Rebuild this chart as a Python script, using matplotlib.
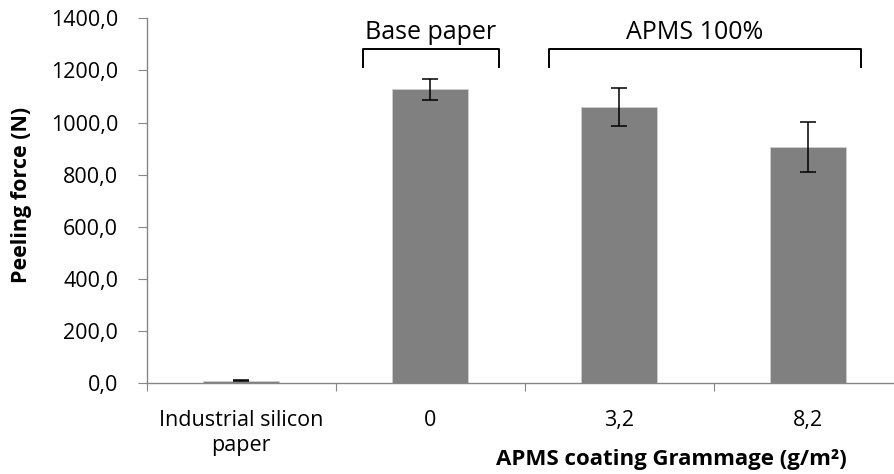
import matplotlib
matplotlib.use("Agg")
import matplotlib.pyplot as plt
import numpy as np

# ---- data ----
categories = ["Industrial silicon\npaper", "0", "3,2", "8,2"]
peeling_force = [10.0, 1127.0, 1060.0, 907.0]
peeling_err = [3.0, 39.5, 73.5, 95.0]
y_ticks = [0, 200, 400, 600, 800, 1000, 1200, 1400]
y_tick_labels = ["0,0", "200,0", "400,0", "600,0", "800,0", "1000,0", "1200,0", "1400,0"]
group_labels = ["Base paper", "APMS 100%"]
group_spans = [(0.643, 1.366), (1.630, 3.278)]   # bracket extents in category units
group_text_x = [1.0, 2.40]
bracket_top, bracket_bottom, group_text_y = 1281, 1213, 1320

plt.rcParams['font.family'] = ['Open Sans', 'DejaVu Sans']

fig = plt.figure(figsize=(8.94, 4.74), dpi=100)
ax = fig.add_axes([146.7/894, 1 - 383.3/474, 756/894, 365/474])

x = np.arange(len(categories))
ax.bar(x, peeling_force, width=0.4, color="#808080", edgecolor="#cfcfcf", linewidth=0.6, zorder=2)
ax.errorbar(x, peeling_force, yerr=peeling_err, fmt="none", ecolor="black",
            elinewidth=1.1, capsize=6, capthick=1.1, zorder=3)

ax.set_xlim(-0.5, 3.5)
ax.set_ylim(0, 1400)
ax.set_yticks(y_ticks)
ax.set_yticklabels(y_tick_labels, fontsize=15.5)

# x ticks at category boundaries, labels at centres
ax.set_xticks(np.arange(-0.5, len(categories) + 0.5, 1.0))
ax.set_xticklabels([])
ax.set_xticks(x, minor=True)
ax.set_xticklabels(categories, minor=True, fontsize=15.5, linespacing=1.3)
ax.tick_params(axis="x", which="major", length=6, color="#868686", direction="out")
ax.tick_params(axis="x", which="minor", length=0, pad=19)
ax.tick_params(axis="y", length=6.5, color="#868686", direction="out", pad=14)

for s in ["top", "right"]:
    ax.spines[s].set_visible(False)
for s in ["left", "bottom"]:
    ax.spines[s].set_color("#868686")
    ax.spines[s].set_linewidth(1.0)

# group brackets
for (x0, x1), lab, tx in zip(group_spans, group_labels, group_text_x):
    ax.plot([x0, x0, x1, x1], [bracket_bottom, bracket_top, bracket_top, bracket_bottom],
            color="black", lw=1.4, clip_on=False, zorder=4)
    ax.text(tx, group_text_y, lab, ha="center", va="baseline", fontsize=18, clip_on=False)

ax.text((22 - 146.7)/756, (383.3 - 195)/365, "Peeling force (N)", rotation=90,
        ha="center", va="center", fontsize=15.5, fontweight="bold", transform=ax.transAxes)
ax.text((671 - 146.7)/756, (383.3 - 459)/365, "APMS coating Grammage (g/m²)",
        ha="center", va="center", fontsize=16, fontweight="bold", transform=ax.transAxes)

fig.savefig("out.png", dpi=100)
